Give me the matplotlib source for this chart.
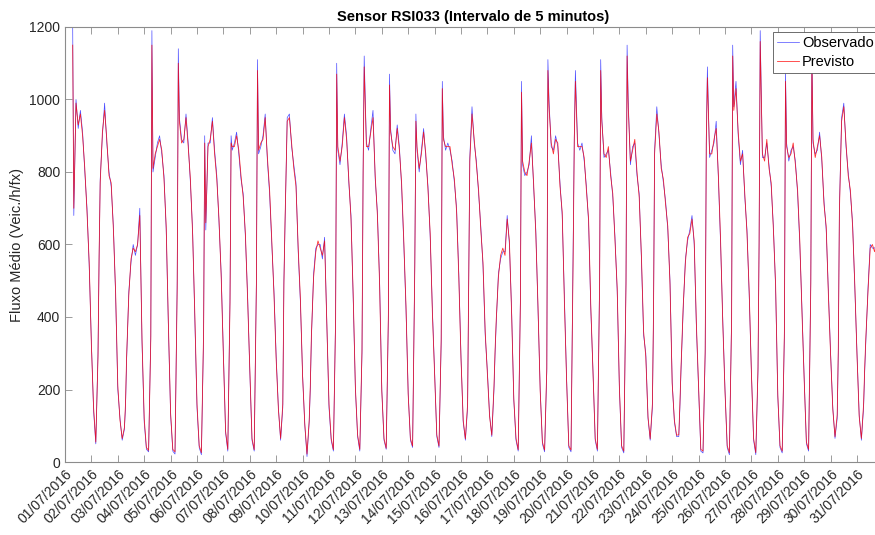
import numpy as np
import matplotlib.pyplot as plt

# DADOS (leitura aproximada do grafico, amostras por hora do dia)
horas = [0, 2, 4, 6, 7, 8, 10, 12, 14, 16, 18, 20, 22]
dias = ['%02d/07/2016' % d for d in range(1, 32)]

nan = np.nan
observado = [
    [nan, nan, nan, nan, 1200, 680, 1000, 920, 970, 910, 800, 700, 540],
    [330, 140, 50, 300, 560, 780, 900, 990, 880, 800, 760, 650, 460],
    [200, 120, 60, 90, 150, 280, 470, 550, 600, 570, 600, 700, 330],
    [110, 35, 28, 350, 1190, 800, 840, 880, 900, 850, 790, 640, 370],
    [130, 30, 22, 500, 1140, 950, 890, 880, 960, 880, 770, 640, 400],
    [150, 40, 20, 350, 900, 640, 880, 880, 950, 860, 790, 660, 520],
    [300, 80, 30, 450, 900, 860, 880, 910, 850, 780, 740, 620, 460],
    [250, 60, 30, 500, 1110, 850, 870, 900, 960, 830, 740, 600, 470],
    [290, 150, 60, 150, 500, 650, 950, 960, 870, 820, 770, 580, 440],
    [240, 100, 15, 110, 200, 340, 520, 590, 600, 600, 560, 620, 380],
    [150, 60, 30, 400, 1100, 860, 820, 880, 960, 900, 770, 680, 450],
    [200, 70, 30, 300, 800, 1120, 880, 860, 920, 970, 780, 690, 500],
    [200, 60, 35, 400, 1070, 920, 860, 850, 930, 870, 760, 600, 420],
    [190, 60, 40, 550, 960, 860, 800, 860, 920, 840, 760, 620, 420],
    [250, 70, 40, 330, 1050, 900, 860, 880, 860, 830, 770, 700, 520],
    [290, 110, 60, 150, 500, 840, 980, 880, 830, 740, 650, 540, 350],
    [250, 130, 70, 200, 300, 380, 520, 560, 580, 580, 680, 600, 420],
    [170, 60, 30, 450, 1050, 820, 790, 800, 820, 900, 760, 640, 420],
    [200, 50, 28, 250, 1110, 1000, 870, 860, 900, 870, 770, 680, 450],
    [230, 40, 28, 600, 900, 1080, 880, 860, 880, 830, 760, 660, 420],
    [250, 60, 30, 500, 1110, 950, 840, 850, 860, 800, 730, 620, 470],
    [200, 40, 25, 500, 1150, 1000, 820, 870, 880, 790, 740, 560, 350],
    [300, 120, 60, 150, 400, 860, 980, 900, 820, 770, 720, 640, 500],
    [220, 110, 70, 70, 150, 250, 420, 560, 610, 640, 680, 600, 370],
    [200, 30, 25, 300, 900, 1090, 840, 860, 880, 940, 780, 600, 390],
    [200, 40, 20, 400, 1150, 980, 1050, 900, 820, 860, 730, 640, 460],
    [250, 60, 20, 250, 600, 1190, 840, 840, 880, 820, 760, 650, 480],
    [180, 40, 25, 350, 1080, 880, 830, 860, 870, 830, 740, 600, 420],
    [230, 50, 30, 500, 1150, 880, 850, 860, 910, 830, 720, 640, 470],
    [300, 150, 65, 120, 300, 700, 950, 990, 870, 800, 740, 660, 480],
    [300, 130, 60, 150, 250, 330, 480, 600, 590, 590, 600, nan, nan],
]

previsto = [
    [nan, nan, nan, nan, 1150, 700, 990, 930, 960, 900, 810, 690, 550],
    [320, 150, 55, 290, 570, 770, 910, 970, 890, 790, 770, 640, 470],
    [210, 115, 65, 95, 160, 290, 460, 560, 590, 580, 600, 680, 340],
    [120, 40, 32, 340, 1150, 810, 850, 870, 890, 860, 780, 650, 380],
    [135, 35, 28, 480, 1100, 940, 880, 890, 950, 870, 780, 630, 410],
    [160, 45, 26, 360, 880, 660, 870, 890, 940, 850, 780, 670, 510],
    [290, 85, 35, 440, 880, 870, 870, 900, 860, 790, 730, 630, 450],
    [255, 65, 34, 490, 1080, 860, 880, 890, 950, 840, 750, 610, 460],
    [280, 145, 65, 160, 490, 660, 940, 950, 880, 810, 760, 590, 450],
    [235, 105, 22, 115, 210, 350, 510, 580, 610, 590, 570, 610, 390],
    [160, 65, 34, 390, 1070, 870, 830, 870, 950, 890, 780, 670, 460],
    [205, 75, 35, 310, 790, 1090, 870, 870, 910, 950, 790, 680, 490],
    [195, 65, 38, 410, 1040, 910, 870, 860, 920, 860, 770, 610, 430],
    [185, 65, 44, 540, 940, 870, 810, 850, 910, 850, 750, 630, 410],
    [245, 75, 44, 340, 1030, 890, 870, 870, 870, 820, 780, 690, 510],
    [285, 115, 64, 160, 510, 830, 960, 890, 820, 750, 640, 550, 360],
    [245, 125, 74, 210, 310, 390, 510, 570, 590, 570, 670, 610, 410],
    [175, 65, 34, 440, 1020, 830, 800, 790, 830, 880, 770, 630, 430],
    [195, 55, 33, 260, 1080, 980, 880, 850, 890, 880, 760, 690, 440],
    [225, 45, 33, 580, 890, 1050, 870, 870, 870, 840, 750, 670, 430],
    [245, 65, 35, 490, 1080, 940, 850, 840, 870, 790, 740, 610, 480],
    [205, 45, 30, 490, 1120, 980, 830, 860, 890, 800, 730, 570, 360],
    [290, 125, 64, 160, 410, 850, 960, 910, 810, 780, 710, 650, 490],
    [215, 115, 74, 75, 160, 260, 430, 550, 620, 630, 670, 610, 380],
    [205, 35, 30, 310, 880, 1060, 850, 850, 890, 920, 790, 610, 380],
    [195, 45, 26, 390, 1120, 970, 1030, 910, 830, 850, 740, 630, 470],
    [245, 65, 26, 260, 610, 1160, 850, 830, 890, 810, 770, 640, 490],
    [185, 45, 30, 360, 1050, 870, 840, 850, 880, 820, 750, 610, 410],
    [225, 55, 35, 490, 1120, 890, 840, 870, 900, 840, 710, 650, 460],
    [295, 145, 70, 130, 310, 690, 940, 980, 880, 790, 750, 650, 490],
    [295, 125, 65, 160, 260, 340, 470, 590, 600, 580, 610, nan, nan],
]

# PROCEDIMIENTO: tempo em dias desde 01/07/2016
t = np.array([d + h / 24 for d in range(len(observado)) for h in horas])
obs = np.array(observado, dtype=float).ravel()
prev = np.array(previsto, dtype=float).ravel()

# GRAFICA
plt.rcParams['font.family'] = ['Liberation Sans', 'DejaVu Sans']
cor_texto = '#262626'
cor_eixo = '#8c8c8c'

fig = plt.figure(figsize=(8.75, 5.35), dpi=100)
ax = fig.add_axes([65 / 875, 1 - 462 / 535, 817 / 875, 435 / 535])

ax.plot(t, obs, color='blue', lw=0.5, alpha=0.7, label='Observado')
ax.plot(t, prev, color='red', lw=0.6, alpha=0.8, label='Previsto')

ax.set_xlim(0, 817 / 26.4)
ax.set_ylim(0, 1200)
ax.set_yticks(range(0, 1201, 200))
ax.set_xticks(range(len(dias)))
ax.set_xticklabels(dias, rotation=45, ha='right', rotation_mode='anchor')

ax.tick_params(direction='in', length=5, width=0.6, colors=cor_eixo,
               labelcolor=cor_texto, labelsize=10, top=True, right=True)
for s in ax.spines.values():
    s.set_color(cor_eixo)
    s.set_linewidth(0.8)

ax.set_ylabel('Fluxo Médio (Veic./h/fx)', fontsize=10.5, color=cor_texto)
ax.set_title('Sensor RSI033 (Intervalo de 5 minutos)', fontsize=10.5,
             fontweight='bold', color='black', pad=4)

leg = ax.legend(loc='upper right', bbox_to_anchor=(0.9955, 1 - 5 / 435),
                fontsize=10.5, fancybox=False, framealpha=1,
                edgecolor='#555555', handlelength=1.5, handletextpad=0.2,
                borderpad=0.3, borderaxespad=0, labelspacing=0.3)
leg.get_frame().set_linewidth(0.6)

plt.savefig('out.png', dpi=100)
